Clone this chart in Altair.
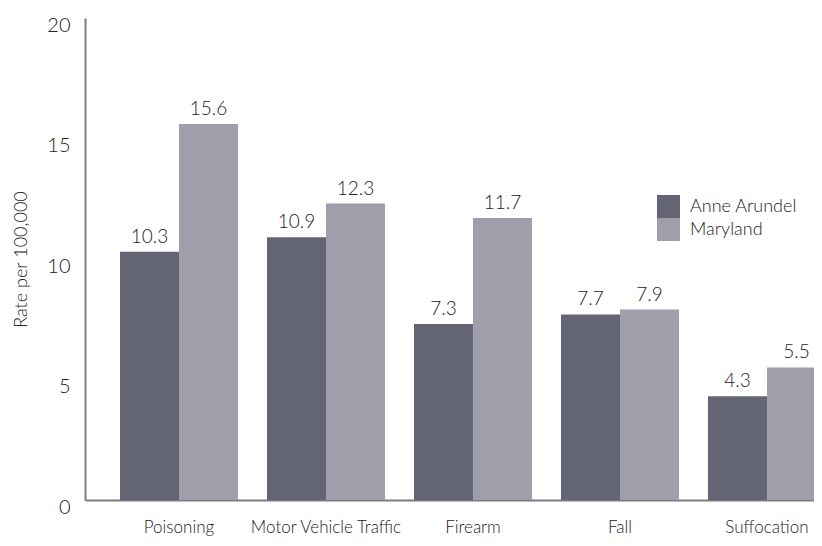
import altair as alt
import pandas as pd

categories = ["Poisoning", "Motor Vehicle Traffic", "Firearm", "Fall", "Suffocation"]
series = ["Anne Arundel", "Maryland"]
anne_arundel = [10.3, 10.9, 7.3, 7.7, 4.3]
maryland = [15.6, 12.3, 11.7, 7.9, 5.5]
colors = ["#646574", "#9f9eab"]

rows = []
for c, a, m in zip(categories, anne_arundel, maryland):
    rows.append({"cause": c, "region": series[0], "rate": a})
    rows.append({"cause": c, "region": series[1], "rate": m})
df = pd.DataFrame(rows)

FONT = "Lato"

x = alt.X("cause:N", sort=categories, title=None,
          scale=alt.Scale(paddingInner=0.197, paddingOuter=0.119, align=1),
          axis=alt.Axis(labelAngle=0, ticks=False, labelPadding=19, labelFontSize=17,
                        labelColor="#222", labelFont=FONT, labelFontWeight=300,
                        domainColor="#7a7b88", domainWidth=2))
xo = alt.XOffset("region:N", sort=series, scale=alt.Scale(paddingInner=0, paddingOuter=0))

bars = alt.Chart(df).mark_bar().encode(
    x=x,
    xOffset=xo,
    y=alt.Y("rate:Q", title="Rate per 100,000",
            scale=alt.Scale(domain=[0, 20], nice=False),
            axis=alt.Axis(values=[0, 5, 10, 15, 20], ticks=False, grid=False,
                          labelPadding=15, labelFontSize=20, labelColor="#222",
                          labelFont=FONT, labelFontWeight=300, labelOffset=7,
                          titleFont=FONT, titleFontWeight=300, titleFontSize=18,
                          titleColor="#222", titlePadding=16,
                          domainColor="#7a7b88", domainWidth=2)),
    color=alt.Color("region:N", sort=series, title=None,
                    scale=alt.Scale(domain=series, range=colors),
                    legend=alt.Legend(orient="none", legendX=572, legendY=177,
                                      symbolType="square", symbolSize=529,
                                      symbolStrokeWidth=0, symbolOpacity=1,
                                      rowPadding=0, labelFontSize=18, labelFont=FONT,
                                      labelFontWeight=300, labelColor="#222",
                                      labelOffset=10, padding=0))
)

labels = alt.Chart(df).mark_text(baseline="bottom", dy=-5, fontSize=19, font=FONT,
                                 fontWeight=300, color="#222").encode(
    x=alt.X("cause:N", sort=categories),
    xOffset=xo,
    y="rate:Q",
    text=alt.Text("rate:Q", format=".1f"),
)

chart = (bars + labels).properties(
    width=741, height=482,
    padding={"left": 77, "top": 10, "right": -12, "bottom": 38},
    autosize=alt.AutoSizeParams(type="none"),
).configure_view(stroke=None)

chart.save("out.html", embed_options={"renderer": "svg", "actions": False})
